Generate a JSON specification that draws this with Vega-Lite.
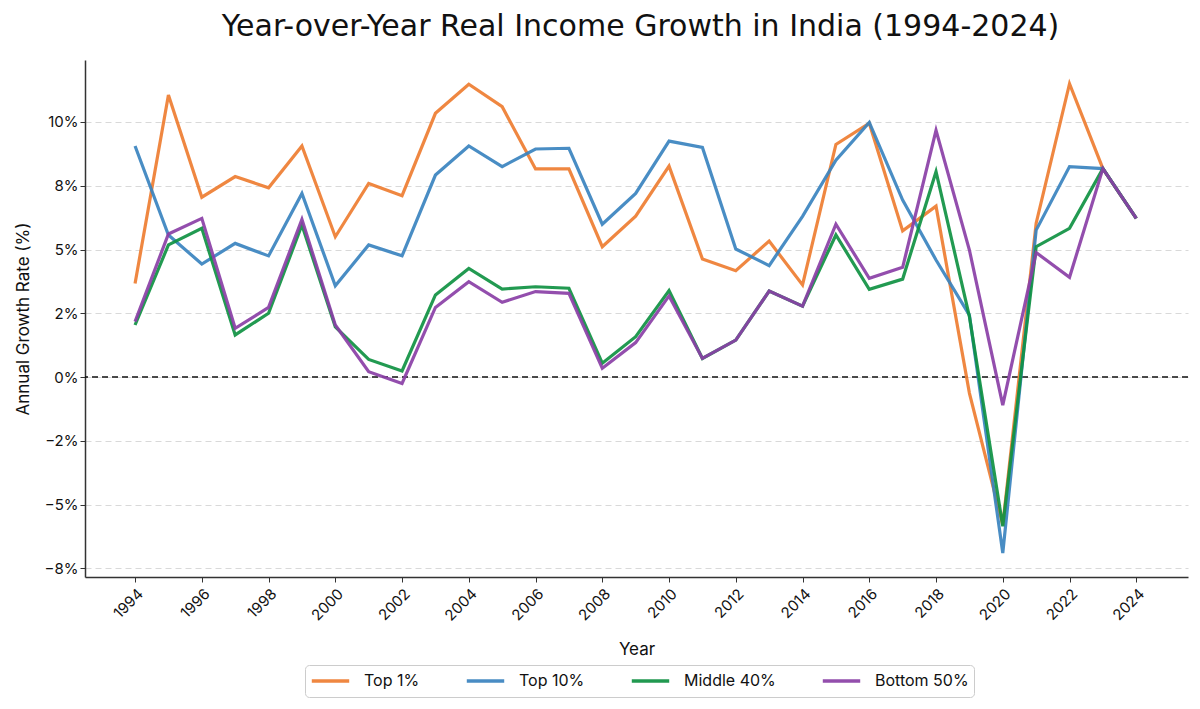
{
  "$schema": "https://vega.github.io/schema/vega-lite/v6.json",
  "autosize": {"type": "none"},
  "width": 1103,
  "height": 517,
  "padding": {"left": 85, "top": 60, "right": 12, "bottom": 132},
  "background": "white",
  "title": {
    "text": "Year-over-Year Real Income Growth in India (1994-2024)",
    "font": "DejaVu Sans",
    "fontSize": 30,
    "fontWeight": "normal",
    "color": "#111",
    "anchor": "middle",
    "offset": 18,
    "dx": 4
  },
  "datasets": {
    "growth": [
      {"year": 1994, "Top 1%": 3.67, "Top 10%": 9.06, "Middle 40%": 2.04, "Bottom 50%": 2.17},
      {"year": 1995, "Top 1%": 11.06, "Top 10%": 5.57, "Middle 40%": 5.18, "Bottom 50%": 5.61},
      {"year": 1996, "Top 1%": 7.05, "Top 10%": 4.43, "Middle 40%": 5.83, "Bottom 50%": 6.22},
      {"year": 1997, "Top 1%": 7.86, "Top 10%": 5.24, "Middle 40%": 1.65, "Bottom 50%": 1.91},
      {"year": 1998, "Top 1%": 7.42, "Top 10%": 4.75, "Middle 40%": 2.5, "Bottom 50%": 2.73},
      {"year": 1999, "Top 1%": 9.06, "Top 10%": 7.2, "Middle 40%": 5.96, "Bottom 50%": 6.18},
      {"year": 2000, "Top 1%": 5.5, "Top 10%": 3.58, "Middle 40%": 1.97, "Bottom 50%": 2.04},
      {"year": 2001, "Top 1%": 7.59, "Top 10%": 5.18, "Middle 40%": 0.69, "Bottom 50%": 0.21},
      {"year": 2002, "Top 1%": 7.11, "Top 10%": 4.75, "Middle 40%": 0.24, "Bottom 50%": -0.25},
      {"year": 2003, "Top 1%": 10.34, "Top 10%": 7.92, "Middle 40%": 3.22, "Bottom 50%": 2.73},
      {"year": 2004, "Top 1%": 11.48, "Top 10%": 9.06, "Middle 40%": 4.26, "Bottom 50%": 3.74},
      {"year": 2005, "Top 1%": 10.6, "Top 10%": 8.25, "Middle 40%": 3.45, "Bottom 50%": 2.93},
      {"year": 2006, "Top 1%": 8.16, "Top 10%": 8.94, "Middle 40%": 3.54, "Bottom 50%": 3.35},
      {"year": 2007, "Top 1%": 8.16, "Top 10%": 8.97, "Middle 40%": 3.48, "Bottom 50%": 3.28},
      {"year": 2008, "Top 1%": 5.11, "Top 10%": 5.99, "Middle 40%": 0.54, "Bottom 50%": 0.34},
      {"year": 2009, "Top 1%": 6.31, "Top 10%": 7.2, "Middle 40%": 1.58, "Bottom 50%": 1.35},
      {"year": 2010, "Top 1%": 8.27, "Top 10%": 9.25, "Middle 40%": 3.39, "Bottom 50%": 3.18},
      {"year": 2011, "Top 1%": 4.63, "Top 10%": 9.0, "Middle 40%": 0.73, "Bottom 50%": 0.73},
      {"year": 2012, "Top 1%": 4.17, "Top 10%": 5.02, "Middle 40%": 1.45, "Bottom 50%": 1.45},
      {"year": 2013, "Top 1%": 5.33, "Top 10%": 4.37, "Middle 40%": 3.37, "Bottom 50%": 3.37},
      {"year": 2014, "Top 1%": 3.61, "Top 10%": 6.3, "Middle 40%": 2.78, "Bottom 50%": 2.78},
      {"year": 2015, "Top 1%": 9.12, "Top 10%": 8.5, "Middle 40%": 5.57, "Bottom 50%": 5.99},
      {"year": 2016, "Top 1%": 9.95, "Top 10%": 9.98, "Middle 40%": 3.44, "Bottom 50%": 3.87},
      {"year": 2017, "Top 1%": 5.73, "Top 10%": 6.94, "Middle 40%": 3.84, "Bottom 50%": 4.3},
      {"year": 2018, "Top 1%": 6.7, "Top 10%": 4.59, "Middle 40%": 8.05, "Bottom 50%": 9.67},
      {"year": 2019, "Top 1%": -0.63, "Top 10%": 2.43, "Middle 40%": 2.37, "Bottom 50%": 4.98},
      {"year": 2020, "Top 1%": -5.8, "Top 10%": -6.9, "Middle 40%": -5.85, "Bottom 50%": -1.1},
      {"year": 2021, "Top 1%": 6.03, "Top 10%": 5.76, "Middle 40%": 5.11, "Bottom 50%": 4.88},
      {"year": 2022, "Top 1%": 11.5, "Top 10%": 8.25, "Middle 40%": 5.83, "Bottom 50%": 3.91},
      {"year": 2023, "Top 1%": 8.17, "Top 10%": 8.17, "Middle 40%": 8.17, "Bottom 50%": 8.17},
      {"year": 2024, "Top 1%": 6.22, "Top 10%": 6.22, "Middle 40%": 6.22, "Bottom 50%": 6.22}
    ],
    "zero": [{"y": 0}]
  },
  "layer": [
    {
      "data": {"name": "zero"},
      "mark": {"type": "rule", "color": "#111", "strokeWidth": 1.5, "strokeDash": [6, 4]},
      "encoding": {
        "y": {"field": "y", "type": "quantitative", "scale": {"domain": [-7.84, 12.43], "nice": false}}
      }
    },
    {
      "data": {"name": "growth"},
      "transform": [
        {"fold": ["Top 1%", "Top 10%", "Middle 40%", "Bottom 50%"], "as": ["group", "growth"]}
      ],
      "mark": {"type": "line", "strokeWidth": 3.2, "opacity": 0.92},
      "encoding": {
        "x": {
          "field": "year",
          "type": "quantitative",
          "title": "Year",
          "scale": {"domain": [1992.5, 2025.55], "nice": false, "zero": false},
          "axis": {
            "values": [1994, 1996, 1998, 2000, 2002, 2004, 2006, 2008, 2010, 2012, 2014, 2016, 2018, 2020, 2022, 2024],
            "format": "d",
            "labelAngle": -45,
            "labelAlign": "right",
            "labelBaseline": "top",
            "labelPadding": 4,
            "grid": false,
            "titlePadding": 18
          }
        },
        "y": {
          "field": "growth",
          "type": "quantitative",
          "title": "Annual Growth Rate (%)",
          "scale": {"domain": [-7.84, 12.43], "nice": false, "zero": false},
          "axis": {
            "values": [-7.5, -5, -2.5, 0, 2.5, 5, 7.5, 10],
            "labelExpr": "datum.value == 7.5 ? '8%' : datum.value == 2.5 ? '2%' : datum.value == -2.5 ? '\u22122%' : datum.value == -7.5 ? '\u22128%' : datum.value == -5 ? '\u22125%' : datum.value + '%'",
            "grid": true,
            "gridDash": [6, 4],
            "gridColor": "#d9d9d9",
            "gridWidth": 1.2,
            "titlePadding": 12
          }
        },
        "color": {
          "field": "group",
          "type": "nominal",
          "sort": ["Top 1%", "Top 10%", "Middle 40%", "Bottom 50%"],
          "scale": {
            "domain": ["Top 1%", "Top 10%", "Middle 40%", "Bottom 50%"],
            "range": ["#ee7d31", "#3a83bf", "#0f9142", "#8a3fa6"]
          },
          "legend": {
            "title": null,
            "orient": "none",
            "legendX": 220,
            "legendY": 605,
            "direction": "horizontal",
            "symbolType": "stroke",
            "symbolSize": 1400,
            "symbolStrokeWidth": 3.5,
            "clipHeight": 22,
            "labelOffset": 13,
            "columnPadding": 45,
            "labelFontSize": 16,
            "labelFont": "Inter",
            "labelColor": "#111",
            "fillColor": "white",
            "strokeColor": "#cccccc",
            "cornerRadius": 4,
            "padding": 5
          }
        }
      }
    }
  ],
  "config": {
    "view": {"stroke": null},
    "axis": {
      "domainColor": "#333",
      "domainWidth": 1.5,
      "tickColor": "#333",
      "tickSize": 5,
      "labelFont": "Inter",
      "labelFontSize": 15,
      "labelColor": "#111",
      "titleFont": "Inter",
      "titleFontSize": 17,
      "titleFontWeight": "normal",
      "titleColor": "#111"
    }
  }
}
